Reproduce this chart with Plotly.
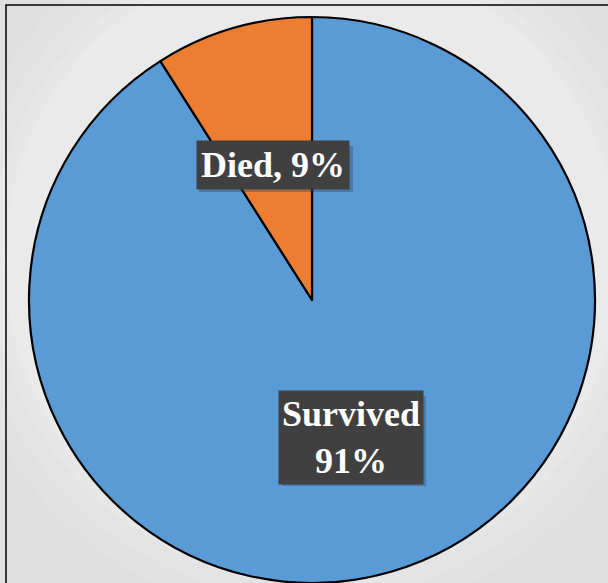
import plotly.graph_objects as go

labels = ["Died", "Survived"]
values = [9, 91]
colors = ["#ED7D31", "#5B9BD5"]

W, H = 608, 583

# Survived first, clockwise from 12 o'clock, so Died ends up just left of 12 o'clock
order = [1, 0]

fig = go.Figure()
fig.add_trace(go.Pie(
    labels=[labels[i] for i in order],
    values=[values[i] for i in order],
    sort=False,
    direction="clockwise",
    rotation=0,
    marker=dict(colors=[colors[i] for i in order], line=dict(color="#000000", width=2.2)),
    textinfo="none",
    hoverinfo="label+percent",
    showlegend=False,
    domain=dict(x=[29 / W, 595 / W], y=[0.0, 566 / H]),
))

# soft background glow
shapes = []
for r, op in [(360, 0.15), (340, 0.15), (322, 0.2), (308, 0.25)]:
    shapes.append(dict(
        type="circle", xref="paper", yref="paper",
        x0=(312 - r) / W, x1=(312 + r) / W,
        y0=1 - (260 + r) / H, y1=1 - (260 - r) / H,
        fillcolor="#f4f4f4", opacity=op, line=dict(width=0), layer="below",
    ))
# label box drop shadows (pixel boxes, offset by 3px)
for (x0, y0, x1, y1) in [(196, 143, 350, 189), (279, 393, 423, 483)]:
    shapes.append(dict(
        type="rect", xref="paper", yref="paper",
        x0=(x0 + 3) / W, x1=(x1 + 3) / W, y0=1 - (y1 + 3) / H, y1=1 - (y0 + 3) / H,
        fillcolor="rgba(40,60,90,0.35)", line=dict(width=0), layer="above",
    ))
# frame
shapes.append(dict(
    type="rect", xref="paper", yref="paper",
    x0=6 / W, x1=1.05, y0=-0.05, y1=1 - 5 / H,
    line=dict(color="#000000", width=1.5), fillcolor="rgba(0,0,0,0)", layer="above",
))

serif = "Liberation Serif, Times New Roman, serif"
label_texts = [
    f"<b>{labels[0]}, {values[0]}%</b>",
    f"<b>{labels[1]}</b><br><b>{values[1]}%</b>",
]
centers = [(273, 165), (351, 437)]
sizes = [36, 36]
pads = [4, 3]

annotations = []
for (cx, cy), txt, sz, pd in zip(centers, label_texts, sizes, pads):
    annotations.append(dict(
        x=cx / W, y=1 - cy / H, xref="paper", yref="paper",
        text=txt, showarrow=False,
        font=dict(family=serif, size=sz, color="#ffffff"),
        bgcolor="#404040", borderpad=pd,
        xanchor="center", yanchor="middle",
    ))

fig.update_layout(
    width=W, height=H,
    margin=dict(l=0, r=0, t=0, b=0),
    paper_bgcolor="#e0e0e0",
    plot_bgcolor="#e0e0e0",
    shapes=shapes,
    annotations=annotations,
)

fig.write_html("out.html")
